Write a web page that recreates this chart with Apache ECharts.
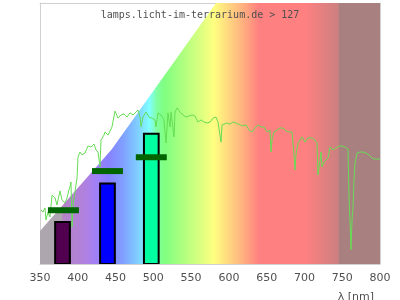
<!DOCTYPE html>
<html><head><meta charset="utf-8">
<script src="https://cdn.jsdelivr.net/npm/echarts@6/dist/echarts.min.js"></script>
<style>html,body{margin:0;padding:0;background:#fff}#c{width:400px;height:300px}</style>
</head><body><div id="c"></div>
<script>
// ---- data ----
const titleText = 'lamps.licht-im-terrarium.de > 127';
const xAxisName = 'λ [nm]';
const xMin = 350, xMax = 800, xStep = 50;

// measured spectrum (wavelength nm, relative intensity 0..100)
const spectrumNm = [351.3,354.0,356.6,357.9,360.6,363.2,365.9,369.9,372.5,373.8,376.5,379.1,383.1,385.7,388.4,389.7,391.0,392.4,393.7,396.3,399.0,400.3,402.9,405.6,409.6,413.5,417.5,421.5,424.1,426.8,429.4,430.7,434.7,436.0,440.0,445.3,449.3,453.2,457.2,461.2,465.1,469.1,473.1,477.1,479.7,482.4,483.7,486.3,490.3,494.3,498.2,502.2,503.5,506.2,510.1,514.1,516.8,519.4,522.1,523.4,526.0,527.3,528.7,531.3,535.3,539.3,543.2,547.2,551.2,555.1,559.1,563.1,567.1,571.0,575.0,579.0,582.9,585.6,589.6,590.9,593.5,597.5,601.5,605.4,609.4,614.7,618.7,622.6,626.6,630.6,634.6,638.5,642.5,646.5,650.4,654.4,655.7,657.1,659.7,663.7,667.6,671.6,675.6,679.6,683.5,686.2,687.5,688.8,691.5,694.1,696.8,700.7,704.7,710.0,713.9,716.6,717.9,720.6,721.9,723.2,725.9,728.5,731.2,733.8,737.8,741.8,745.7,749.7,753.7,757.6,759.0,760.3,761.6,763.0,764.3,765.6,766.9,769.6,773.5,777.5,781.5,785.4,789.4,793.4,796.0,800.0];
const spectrumVal = [20.7,19.9,21.5,16.9,19.9,18.0,26.4,25.3,22.6,24.5,28.0,24.5,23.4,25.3,28.4,29.5,31.4,14.2,22.6,27.6,33.0,41.0,42.9,41.8,42.5,45.2,44.8,46.0,43.7,42.9,37.2,47.5,49.4,50.6,49.4,52.5,58.6,55.9,57.1,57.5,56.3,57.9,57.1,58.2,59.0,56.3,52.5,56.3,58.2,56.3,55.9,55.2,52.5,57.9,57.1,55.2,46.4,57.9,52.5,58.2,58.6,48.7,58.2,59.8,58.2,57.1,56.3,56.7,57.1,56.7,54.4,55.2,54.4,54.0,54.4,55.9,56.3,54.4,46.7,53.3,54.0,54.0,53.6,54.4,54.0,53.3,52.9,53.3,51.3,50.6,52.1,53.3,52.5,52.5,50.6,51.3,42.9,47.5,50.6,51.3,52.1,52.1,51.0,50.6,50.6,41.8,36.0,41.8,46.4,47.5,48.7,46.7,48.3,48.3,47.5,46.4,34.1,39.8,42.9,37.2,39.1,38.7,40.6,44.8,43.7,44.4,45.2,45.2,44.8,44.1,25.7,16.9,5.4,16.9,21.8,32.2,38.7,42.5,42.9,42.9,42.5,41.8,40.6,40.2,39.5,40.2];

// LED channels (peak nm, height, width nm)
const ledNm = [379.8, 439.3, 497.3];
const ledVal = [16.1, 30.8, 49.9];
const ledWidth = [19.5, 19.5, 19.5];
const ledColors = ['#50004f', '#0000ff', '#00ffa0'];

// dark green reference markers (nm, value, width nm)
const markNm = [381.0, 439.3, 497.3];
const markVal = [20.6, 35.6, 40.9];
const markWidth = [41, 41, 41];

// coloured background envelope (nm, value)
const bgNm = [350, 445, 583, 800];
const bgVal = [12.6, 44, 100, 100];
// background colour stops (nm, colour)
const bgStopNm = [350, 379, 380, 410, 425, 440, 460, 480, 495, 505, 515, 540, 565, 580, 595, 615, 640, 700, 745, 746, 800];
const bgStopColor = ['#aea6ae','#aea6ae','#b585c5','#b080e0','#a080f8','#8880ff','#80a0ff','#80d0ff','#80ffff','#80ffa0','#80ff80','#b0ff80','#e0ff80','#ffff80','#ffe080','#ffb880','#ff8080','#ff8080','#cc8080','#a88080','#a88080'];

// ---- chart ----
const chart = echarts.init(document.getElementById('c'), null, {renderer: 'canvas'});
const stops = bgStopNm.map((n, i) => ({offset: (n - xMin) / (xMax - xMin), color: bgStopColor[i]}));
const borderColor = '#d0d0d0';

chart.setOption({
  animation: false,
  title: [
    {text: titleText, left: 'center', top: 5, textStyle: {fontFamily: 'DejaVu Sans Mono', fontSize: 10, fontWeight: 'normal', color: '#505050'}},
    {text: xAxisName, right: 21, top: 287, textStyle: {fontFamily: 'DejaVu Sans', fontSize: 11, fontWeight: 'normal', color: '#505050'}}
  ],
  grid: {left: 40, right: 20, top: 3, bottom: 36},
  xAxis: [
    {type: 'value', min: xMin, max: xMax, interval: xStep,
     axisLine: {show: true, lineStyle: {color: borderColor}}, axisTick: {show: false}, splitLine: {show: false},
     axisLabel: {color: '#505050', fontFamily: 'DejaVu Sans', fontSize: 11, margin: 9}},
    {type: 'value', position: 'top', min: xMin, max: xMax, axisLine: {show: true, onZero: false, lineStyle: {color: borderColor}},
     axisTick: {show: false}, axisLabel: {show: false}, splitLine: {show: false}}
  ],
  yAxis: [
    {type: 'value', min: 0, max: 100, axisLine: {show: true, onZero: false, lineStyle: {color: borderColor}}, axisTick: {show: false}, axisLabel: {show: false}, splitLine: {show: false}},
    {type: 'value', position: 'right', min: 0, max: 100, axisLine: {show: true, onZero: false, lineStyle: {color: borderColor}}, axisTick: {show: false}, axisLabel: {show: false}, splitLine: {show: false}}
  ],
  series: [
    {type: 'line', z: 1, data: bgNm.map((n, i) => [n, bgVal[i]]), showSymbol: false, silent: true,
     lineStyle: {width: 0, opacity: 0},
     areaStyle: {opacity: 1, color: new echarts.graphic.LinearGradient(0, 0, 1, 0, stops)}},
    {type: 'line', z: 2, data: spectrumNm.map((n, i) => [n, spectrumVal[i]]), showSymbol: false,
     lineStyle: {color: '#66dd55', width: 1}},
    {type: 'custom', z: 3, clip: true, data: ledNm.map((n, i) => [n, ledVal[i], ledWidth[i]]),
     renderItem: (params, api) => {
       const c = api.value(0), v = api.value(1), w = api.value(2);
       const p0 = api.coord([c - w / 2, v]);
       const p1 = api.coord([c + w / 2, 0]);
       return {type: 'rect', shape: {x: p0[0], y: p0[1], width: p1[0] - p0[0], height: p1[1] - p0[1]},
               style: {fill: ledColors[params.dataIndex], stroke: '#000', lineWidth: 2}};
     }},
    {type: 'custom', z: 4, clip: true, data: markNm.map((n, i) => [n, markVal[i], markWidth[i]]),
     renderItem: (params, api) => {
       const c = api.value(0), v = api.value(1), w = api.value(2);
       const p0 = api.coord([c - w / 2, v]);
       const p1 = api.coord([c + w / 2, v]);
       return {type: 'rect', shape: {x: p0[0], y: p0[1] - 3, width: p1[0] - p0[0], height: 6},
               style: {fill: '#006400'}};
     }}
  ]
});
</script>
</body></html>
